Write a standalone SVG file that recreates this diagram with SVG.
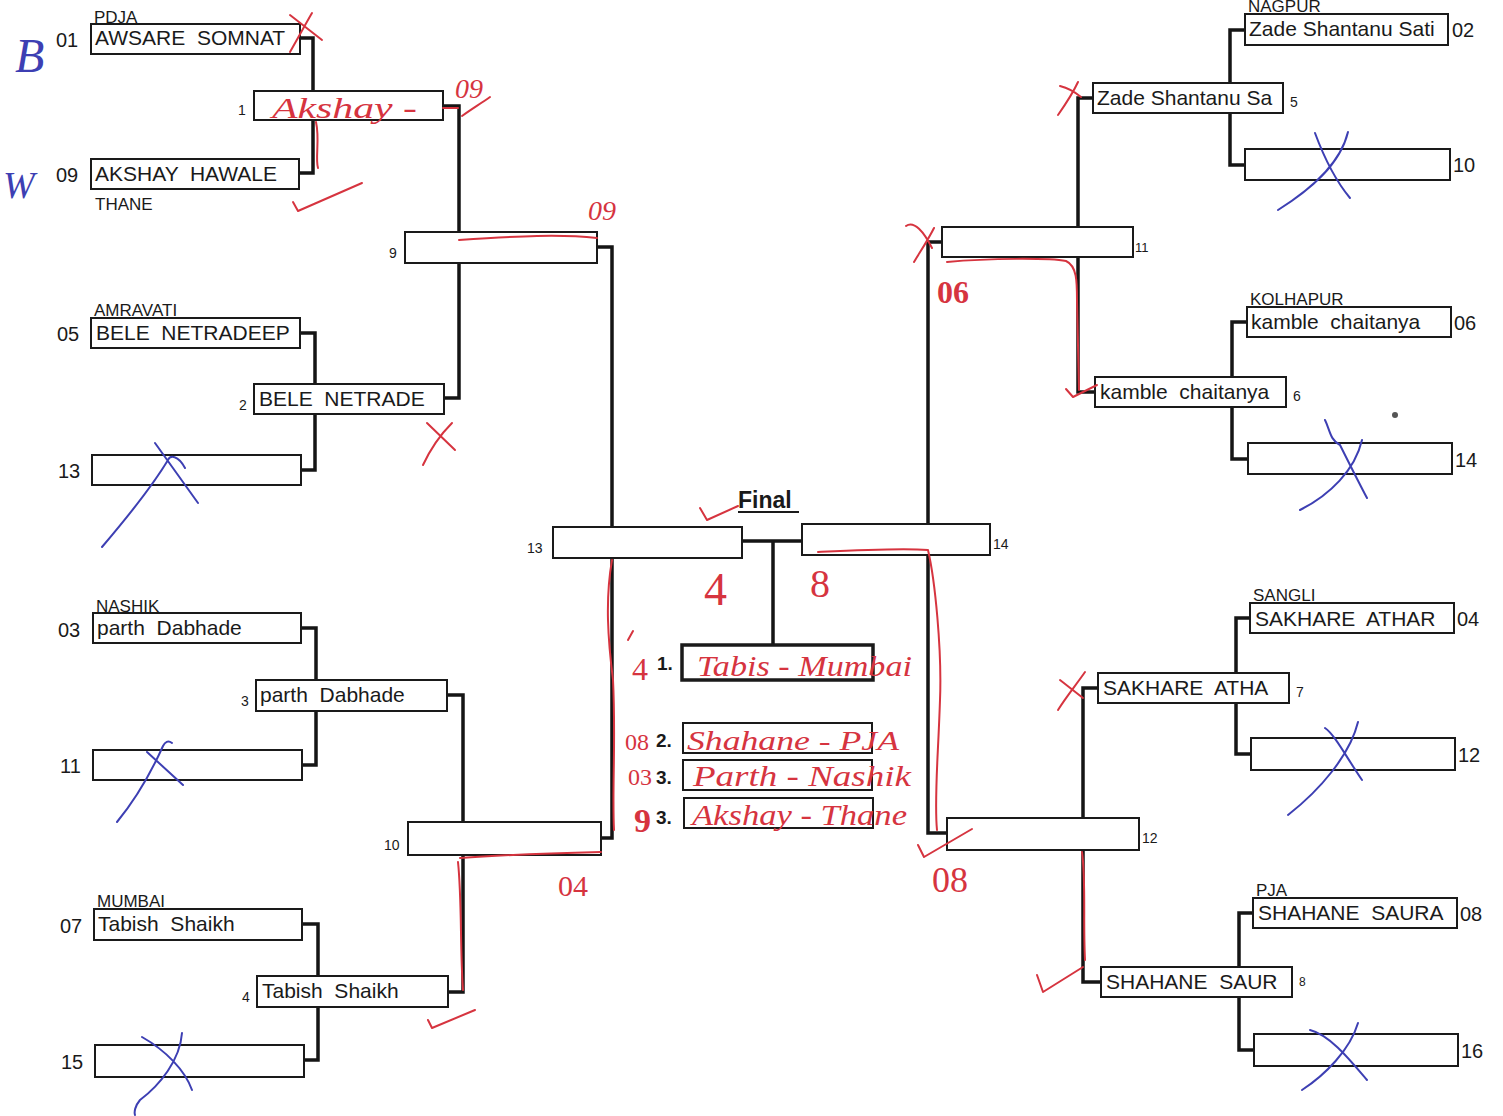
<svg xmlns="http://www.w3.org/2000/svg" width="1503" height="1116" viewBox="0 0 1503 1116">
<style>
.bx{fill:#fff;stroke:#1a1a1a;stroke-width:2}
.bx1{fill:#fff;stroke:#1a1a1a;stroke-width:3.5}
.cn{fill:none;stroke:#151515;stroke-width:3.5;stroke-linejoin:miter}
.nm{font-family:"Liberation Sans",Arial,sans-serif;font-size:21px;fill:#1a1a1a;white-space:pre}
.sd{font-family:"Liberation Sans",Arial,sans-serif;font-size:20px;fill:#1a1a1a}
.rn{font-family:"Liberation Sans",Arial,sans-serif;font-size:14px;fill:#1a1a1a}
.ct{font-family:"Liberation Sans",Arial,sans-serif;font-size:17px;fill:#1a1a1a}
.pl{font-family:"Liberation Sans",Arial,sans-serif;font-size:19px;font-weight:bold;fill:#1a1a1a}
.hr{font-family:"Liberation Serif","DejaVu Serif",serif;font-style:italic;fill:#d6343f;white-space:pre}
.hb{font-family:"Liberation Serif","DejaVu Serif",serif;font-style:italic;fill:#3d3fb3}
.rs{fill:none;stroke:#d6343f;stroke-width:2;stroke-linecap:round;stroke-linejoin:round}
.bs{fill:none;stroke:#3d3fb3;stroke-width:2;stroke-linecap:round;stroke-linejoin:round}
</style>
<rect width="1503" height="1116" fill="#fff"/>

<g id="connectors">
<path class="cn" d="M300,38 H313 V173 H299"/>
<path class="cn" d="M300,333 H315 V470 H301"/>
<path class="cn" d="M301,628 H316 V765 H302"/>
<path class="cn" d="M302,924 H318 V1060 H304"/>
<path class="cn" d="M443,106 H459 V398 H444"/>
<path class="cn" d="M447,695 H463 V992 H448"/>
<path class="cn" d="M597,247 H612 V838 H601"/>
<path class="cn" d="M1245,30 H1230 V165 H1245"/>
<path class="cn" d="M1247,322 H1232 V459 H1248"/>
<path class="cn" d="M1250,618 H1236 V754 H1251"/>
<path class="cn" d="M1253,913 H1239 V1050 H1254"/>
<path class="cn" d="M1093,98 H1078 V392 H1095"/>
<path class="cn" d="M1098,688 H1083 V982 H1101"/>
<path class="cn" d="M942,242 H928 V833 H947"/>
<path class="cn" d="M742,541 H802 M773,541 V645"/>
</g>

<!-- Left round 1 -->
<g id="n01"><text class="ct" x="94" y="23">PDJA</text><rect class="bx" x="91" y="24" width="209" height="30"/><text class="nm" x="95" y="45">AWSARE  SOMNAT</text><text class="sd" x="56" y="47">01</text></g>
<g id="n09"><rect class="bx" x="91" y="159" width="208" height="30"/><text class="nm" x="95" y="181">AKSHAY  HAWALE</text><text class="sd" x="56" y="182">09</text><text class="ct" x="95" y="210">THANE</text></g>
<g id="n05"><text class="ct" x="94" y="316">AMRAVATI</text><rect class="bx" x="91" y="318" width="209" height="30"/><text class="nm" x="96" y="340">BELE  NETRADEEP</text><text class="sd" x="57" y="341">05</text></g>
<g id="n13"><rect class="bx" x="92" y="455" width="209" height="30"/><text class="sd" x="58" y="478">13</text></g>
<g id="n03"><text class="ct" x="96" y="612">NASHIK</text><rect class="bx" x="93" y="613" width="208" height="30"/><text class="nm" x="97" y="635">parth  Dabhade</text><text class="sd" x="58" y="637">03</text></g>
<g id="n11"><rect class="bx" x="93" y="750" width="209" height="30"/><text class="sd" x="60" y="773">11</text></g>
<g id="n07"><text class="ct" x="97" y="907">MUMBAI</text><rect class="bx" x="94" y="909" width="208" height="31"/><text class="nm" x="98" y="931">Tabish  Shaikh</text><text class="sd" x="60" y="933">07</text></g>
<g id="n15"><rect class="bx" x="95" y="1045" width="209" height="32"/><text class="sd" x="61" y="1069">15</text></g>

<!-- Left round 2 -->
<g id="m1"><rect class="bx" x="254" y="91" width="189" height="29"/><text class="rn" x="238" y="115">1</text></g>
<g id="m2"><rect class="bx" x="254" y="384" width="190" height="30"/><text class="nm" x="259" y="406">BELE  NETRADE</text><text class="rn" x="239" y="410">2</text></g>
<g id="m3"><rect class="bx" x="256" y="680" width="191" height="31"/><text class="nm" x="260" y="702">parth  Dabhade</text><text class="rn" x="241" y="706">3</text></g>
<g id="m4"><rect class="bx" x="257" y="976" width="191" height="31"/><text class="nm" x="262" y="998">Tabish  Shaikh</text><text class="rn" x="242" y="1002">4</text></g>

<!-- Left round 3 -->
<g id="m9"><rect class="bx" x="405" y="232" width="192" height="31"/><text class="rn" x="389" y="258">9</text></g>
<g id="m10"><rect class="bx" x="408" y="822" width="193" height="33"/><text class="rn" x="384" y="850">10</text></g>

<!-- Semis -->
<g id="m13"><rect class="bx" x="553" y="527" width="189" height="31"/><text class="rn" x="527" y="553">13</text></g>
<g id="m14"><rect class="bx" x="802" y="524" width="188" height="31"/><text class="rn" x="993" y="549">14</text></g>

<!-- Final -->
<g id="final"><text x="738" y="508" style="font-family:'Liberation Sans',Arial,sans-serif;font-size:23px;font-weight:bold;fill:#1a1a1a">Final</text><line x1="738" y1="512" x2="799" y2="512" stroke="#1a1a1a" stroke-width="2"/></g>
<g id="p1"><rect class="bx1" x="682" y="645" width="191" height="35"/><text class="pl" x="657" y="670">1.</text></g>
<g id="p2"><rect class="bx" x="683" y="723" width="189" height="30"/><text class="pl" x="656" y="747">2.</text></g>
<g id="p3a"><rect class="bx" x="683" y="760" width="189" height="30"/><text class="pl" x="656" y="784">3.</text></g>
<g id="p3b"><rect class="bx" x="684" y="798" width="189" height="30"/><text class="pl" x="656" y="824">3.</text></g>

<!-- Right round 1 -->
<g id="n02"><text class="ct" x="1248" y="12">NAGPUR</text><rect class="bx" x="1245" y="14" width="203" height="31"/><text class="nm" x="1249" y="36">Zade Shantanu Sati</text><text class="sd" x="1452" y="37">02</text></g>
<g id="n10"><rect class="bx" x="1245" y="149" width="205" height="31"/><text class="sd" x="1453" y="172">10</text></g>
<g id="n06"><text class="ct" x="1250" y="305">KOLHAPUR</text><rect class="bx" x="1247" y="307" width="204" height="30"/><text class="nm" x="1251" y="329">kamble  chaitanya</text><text class="sd" x="1454" y="330">06</text></g>
<g id="n14"><rect class="bx" x="1248" y="443" width="204" height="31"/><text class="sd" x="1455" y="467">14</text></g>
<g id="n04"><text class="ct" x="1253" y="601">SANGLI</text><rect class="bx" x="1250" y="603" width="204" height="30"/><text class="nm" x="1255" y="626">SAKHARE  ATHAR</text><text class="sd" x="1457" y="626">04</text></g>
<g id="n12"><rect class="bx" x="1251" y="738" width="204" height="32"/><text class="sd" x="1458" y="762">12</text></g>
<g id="n08"><text class="ct" x="1256" y="896">PJA</text><rect class="bx" x="1253" y="898" width="204" height="30"/><text class="nm" x="1258" y="920">SHAHANE  SAURA</text><text class="sd" x="1460" y="921">08</text></g>
<g id="n16"><rect class="bx" x="1254" y="1034" width="204" height="32"/><text class="sd" x="1461" y="1058">16</text></g>

<!-- Right round 2 -->
<g id="m5"><rect class="bx" x="1093" y="83" width="190" height="30"/><text class="nm" x="1097" y="105">Zade Shantanu Sa</text><text class="rn" x="1290" y="107">5</text></g>
<g id="m6"><rect class="bx" x="1095" y="377" width="191" height="30"/><text class="nm" x="1100" y="399">kamble  chaitanya</text><text class="rn" x="1293" y="401">6</text></g>
<g id="m7"><rect class="bx" x="1098" y="673" width="191" height="30"/><text class="nm" x="1103" y="695">SAKHARE  ATHA</text><text class="rn" x="1296" y="697">7</text></g>
<g id="m8"><rect class="bx" x="1101" y="967" width="191" height="30"/><text class="nm" x="1106" y="989">SHAHANE  SAUR</text><text class="rn" x="1299" y="986" style="font-size:12px">8</text></g>

<!-- Right round 3 -->
<g id="m11"><rect class="bx" x="942" y="227" width="191" height="30"/><text class="rn" x="1135" y="252" style="font-size:13px">11</text></g>
<g id="m12"><rect class="bx" x="947" y="818" width="192" height="32"/><text class="rn" x="1142" y="843">12</text></g>

<!-- Handwritten annotations -->
<g id="annotations">
<text class="hb" x="15" y="72" font-size="48">B</text>
<text class="hb" x="3" y="198" font-size="38">W</text>
<path class="rs" d="M290,15 L322,40 M312,13 C305,25 298,38 290,52"/>
<text class="hr" x="272" y="118" font-size="30" textLength="145" lengthAdjust="spacingAndGlyphs">Akshay -</text>
<path class="rs" d="M316,122 C320,140 315,158 318,168 M443,108 H458"/>
<path class="rs" d="M293,202 L298,211 L362,183"/>
<text class="hr" x="455" y="98" font-size="28">09</text>
<path class="rs" d="M462,116 C470,110 480,104 490,97"/>
<text class="hr" x="588" y="220" font-size="28">09</text>
<path class="rs" d="M459,240 C520,236 560,234 597,238"/>
<path class="rs" d="M427,423 L455,450 M452,423 C440,435 430,450 423,465"/>
<path class="rs" d="M906,226 C914,220 924,232 932,248 M934,228 C928,240 920,252 914,262"/>
<text class="hr" x="937" y="303" font-size="32" style="font-style:normal;font-weight:bold">06</text>
<path class="rs" d="M947,262 C990,258 1050,258 1066,261 C1077,266 1077,282 1077,300 L1079,390"/>
<path class="rs" d="M1066,389 L1073,397 L1097,385"/>
<path class="rs" d="M1060,86 C1068,88 1075,92 1081,97 M1078,82 C1072,95 1065,105 1058,115"/>
<path class="rs" d="M1060,680 L1083,698 M1085,672 C1076,685 1066,697 1058,710"/>
<path class="rs" d="M1082,852 C1086,880 1083,920 1085,960 M1037,975 L1043,992 L1083,967"/>
<path class="rs" d="M700,508 L707,520 L738,506"/>
<text class="hr" x="704" y="605" font-size="46" style="font-style:normal">4</text>
<text class="hr" x="810" y="597" font-size="40" style="font-style:normal">8</text>
<path class="rs" d="M612,560 C605,600 608,640 613,680 C616,740 612,790 614,830 M628,640 L633,631"/>
<path class="rs" d="M818,552 C860,550 900,548 928,550 C935,580 942,650 940,700 C938,760 934,800 937,830"/>
<path class="rs" d="M918,845 L924,857 L972,829"/>
<text class="hr" x="632" y="680" font-size="32" style="font-style:normal">4</text>
<text class="hr" x="697" y="676" font-size="30" textLength="215" lengthAdjust="spacingAndGlyphs">Tabis - Mumbai</text>
<text class="hr" x="625" y="750" font-size="24" style="font-style:normal">08</text>
<text class="hr" x="687" y="750" font-size="28" textLength="212" lengthAdjust="spacingAndGlyphs">Shahane - PJA</text>
<text class="hr" x="628" y="785" font-size="24" style="font-style:normal">03</text>
<text class="hr" x="693" y="786" font-size="30" textLength="218" lengthAdjust="spacingAndGlyphs">Parth - Nashik</text>
<text class="hr" x="634" y="832" font-size="34" style="font-style:normal;font-weight:bold">9</text>
<text class="hr" x="692" y="825" font-size="30" textLength="215" lengthAdjust="spacingAndGlyphs">Akshay - Thane</text>
<text class="hr" x="558" y="896" font-size="30" style="font-style:normal">04</text>
<text class="hr" x="932" y="892" font-size="36" style="font-style:normal">08</text>
<path class="rs" d="M460,858 C500,855 560,853 601,852"/>
<path class="rs" d="M458,862 C462,900 460,950 463,990"/>
<path class="rs" d="M428,1020 L432,1028 L475,1010"/>
<path class="bs" d="M155,443 L198,503 M185,468 C178,455 170,455 168,460 C150,490 125,520 102,547"/>
<path class="bs" d="M147,752 L183,785 M172,743 C168,740 165,742 163,746 C150,775 135,800 117,822"/>
<path class="bs" d="M142,1037 C165,1050 185,1070 192,1090 M182,1033 C180,1060 160,1085 140,1100 C135,1106 134,1112 135,1115"/>
<path class="bs" d="M1315,133 C1325,160 1335,180 1350,198 M1348,132 C1340,165 1310,190 1278,210"/>
<path class="bs" d="M1325,420 C1330,430 1330,440 1340,445 C1350,465 1360,485 1367,498 M1362,440 C1355,470 1330,495 1300,510"/>
<path class="bs" d="M1325,728 C1335,735 1345,755 1362,780 M1358,722 C1350,755 1320,790 1288,815"/>
<path class="bs" d="M1310,1030 C1330,1035 1350,1060 1367,1080 M1358,1023 C1350,1050 1325,1075 1302,1090"/>
<circle cx="1395" cy="415" r="3" fill="#555"/>
</g>
</svg>
